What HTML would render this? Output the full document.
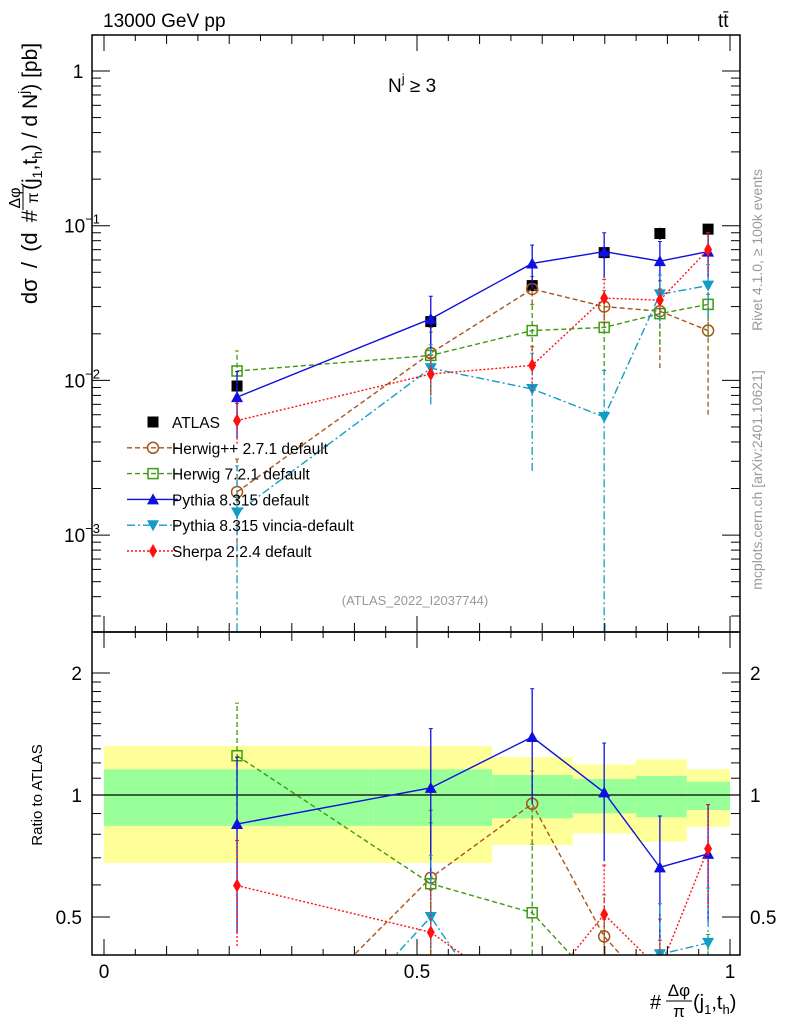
<!DOCTYPE html>
<html><head><meta charset="utf-8">
<style>
html,body{margin:0;padding:0;background:#fff;overflow:hidden;width:786px;height:1024px;}
svg{display:block;font-family:"Liberation Sans",sans-serif;}
</style></head>
<body>
<svg id="chart" width="786" height="1024" viewBox="0 0 786 1024" xmlns="http://www.w3.org/2000/svg">
<g id="bands"></g>
<g id="series"></g>
<g id="axes"></g>
<text x="103" y="27" font-size="19">13000 GeV pp</text>
<text x="718" y="27" font-size="19">tt̄</text>
<text x="388" y="92" font-size="19">N<tspan dy="-9" font-size="13">j</tspan><tspan dy="9"> ≥ 3</tspan></text>
<text x="415" y="605" font-size="13" fill="#999" text-anchor="middle">(ATLAS_2022_I2037744)</text>
<text transform="translate(762,250) rotate(-90)" font-size="14" fill="#999" text-anchor="middle">Rivet 4.1.0, ≥ 100k events</text>
<text transform="translate(762,480) rotate(-90)" font-size="14" fill="#999" text-anchor="middle">mcplots.cern.ch [arXiv:2401.10621]</text>
<g>
<text transform="translate(37,210) rotate(-90)" font-size="22" text-anchor="end" word-spacing="4">dσ / (d #</text>
<text transform="translate(20,198) rotate(-90)" font-size="16" text-anchor="middle">Δφ</text>
<line x1="23" x2="23" y1="186" y2="210" stroke="#000" stroke-width="1"/>
<text transform="translate(38,198) rotate(-90)" font-size="16" text-anchor="middle">π</text>
<text transform="translate(37,190) rotate(-90)" font-size="21">(j<tspan font-size="14" dy="5">1</tspan><tspan dy="-5">,t</tspan><tspan font-size="14" dy="5">h</tspan><tspan dy="-5">) / d N</tspan><tspan font-size="14" dy="-9">j</tspan><tspan dy="9">) [pb]</tspan></text>
</g>
<text transform="translate(42,795) rotate(-90)" font-size="15" text-anchor="middle">Ratio to ATLAS</text>
<g>
<text x="650" y="1009" font-size="20">#</text>
<text x="679" y="996" font-size="17" text-anchor="middle">Δφ</text>
<line x1="666" x2="692" y1="1001" y2="1001" stroke="#000" stroke-width="1"/>
<text x="679" y="1017" font-size="17" text-anchor="middle">π</text>
<text x="693" y="1009" font-size="20">(j<tspan font-size="13" dy="5">1</tspan><tspan dy="-5">,t</tspan><tspan font-size="13" dy="5">h</tspan><tspan dy="-5">)</tspan></text>
</g>
<g id="legend"></g>
</svg>
<script>
const xVals=[0.2125,0.522,0.684,0.799,0.888,0.965];
const atlas=[0.0092,0.024,0.041,0.067,0.089,0.095];
const atlasErr=[0.0008,0.002,0.003,0.006,0.008,0.008];
const herwigpp=[0.0019,0.015,0.039,0.030,0.028,0.021];
const herwigppErr=[0.0012,0.007,0.008,0.008,0.016,0.015];
const herwig7=[0.0115,0.0145,0.021,0.022,0.027,0.031];
const herwig7Err=[0.004,0.006,0.01,0.011,0.01,0.012];
const pythia=[0.0078,0.025,0.057,0.068,0.059,0.068];
const pythiaErr=[0.0036,0.01,0.018,0.022,0.02,0.022];
const vincia=[0.0014,0.012,0.0088,0.0058,0.036,0.041];
const vinciaErr=[0.0014,0.005,0.0062,0.0058,0.012,0.015];
const sherpa=[0.0055,0.011,0.0125,0.034,0.033,0.070];
const sherpaErr=[0.0016,0.003,0.004,0.011,0.006,0.02];
const binEdges=[0,0.43,0.62,0.749,0.85,0.931,1];
const yellowHi=[1.32,1.32,1.24,1.19,1.224,1.157];
const yellowLo=[0.68,0.68,0.753,0.804,0.767,0.835];
const greenHi=[1.157,1.157,1.12,1.095,1.114,1.078];
const greenLo=[0.839,0.839,0.876,0.901,0.881,0.918];
const legendLabels=["ATLAS","Herwig++ 2.7.1 default","Herwig 7.2.1 default","Pythia 8.315 default","Pythia 8.315 vincia-default","Sherpa 2.2.4 default"];

const NS="http://www.w3.org/2000/svg";
const L=92,R=740,T=35,MID=632,B=955;
const X=v=>104+v*626;
const YT=v=>71-154.7*Math.log10(v);
const YR=r=>795-122*Math.log2(r);
function mk(tag,attrs,parent){const e=document.createElementNS(NS,tag);for(const k in attrs)e.setAttribute(k,attrs[k]);parent.appendChild(e);return e;}
const bandsG=document.getElementById('bands'),serG=document.getElementById('series'),axG=document.getElementById('axes'),legG=document.getElementById('legend');

for(let i=0;i<binEdges.length-1;i++){
 let r=mk('rect',{x:X(binEdges[i]),y:YR(yellowHi[i]),width:X(binEdges[i+1])-X(binEdges[i]),height:YR(yellowLo[i])-YR(yellowHi[i]),fill:'#ffff99'},bandsG);
 
 
 let g=mk('rect',{x:X(binEdges[i]),y:YR(greenHi[i]),width:X(binEdges[i+1])-X(binEdges[i]),height:YR(greenLo[i])-YR(greenHi[i]),fill:'#99ff99'},bandsG);
 
 
}
let one=mk('line',{x1:L,x2:R,y1:YR(1),y2:YR(1),stroke:'#000','stroke-width':1.2},bandsG);



const defs=mk('defs',{},document.getElementById('chart'));
const c1=mk('clipPath',{id:'clipTop'},defs);mk('rect',{x:L,y:T,width:R-L,height:MID-T},c1);
const c2=mk('clipPath',{id:'clipBot'},defs);mk('rect',{x:L,y:MID,width:R-L,height:B-MID},c2);

function marker(g,type,x,y,color){
 let e;
 if(type==='sq') e=mk('rect',{x:x-5.5,y:y-5.5,width:11,height:11,fill:color},g);
 else if(type==='osq') e=mk('rect',{x:x-5,y:y-5,width:10,height:10,fill:'none',stroke:color,'stroke-width':1.5},g);
 else if(type==='oc') e=mk('circle',{cx:x,cy:y,r:5.5,fill:'none',stroke:color,'stroke-width':1.5},g);
 else if(type==='tu') e=mk('polygon',{points:`${x},${y-6} ${x-6},${y+5} ${x+6},${y+5}`,fill:color},g);
 else if(type==='td') e=mk('polygon',{points:`${x},${y+6} ${x-6},${y-5} ${x+6},${y-5}`,fill:color},g);
 else e=mk('polygon',{points:`${x},${y-7} ${x-4},${y} ${x},${y+7} ${x+4},${y}`,fill:color},g);
 return e;
}
const series=[
 {name:'herwigpp',vals:herwigpp,err:herwigppErr,color:'#a5561a',dash:'5,3',m:'oc'},
 {name:'herwig7',vals:herwig7,err:herwig7Err,color:'#3f9a12',dash:'5,3',m:'osq'},
 {name:'pythia',vals:pythia,err:pythiaErr,color:'#0f0fe0',dash:'',m:'tu'},
 {name:'vincia',vals:vincia,err:vinciaErr,color:'#129cc8',dash:'8,3,2,3',m:'td'},
 {name:'sherpa',vals:sherpa,err:sherpaErr,color:'#ff1010',dash:'2,2',m:'dia'}
];
function drawSeries(s,ratio){
 const g=mk('g',{'clip-path':ratio?'url(#clipBot)':'url(#clipTop)'},serG);
 
 
 const Y=ratio?YR:YT;
 const v=i=>ratio?s.vals[i]/atlas[i]:s.vals[i];
 const lo=i=>{let a=s.vals[i]-s.err[i];a=Math.max(a,1e-6);return ratio?a/atlas[i]:a;};
 const hi=i=>ratio?(s.vals[i]+s.err[i])/atlas[i]:s.vals[i]+s.err[i];
 let pts=xVals.map((x,i)=>X(x)+','+Y(v(i))).join(' ');
 const pl=mk('polyline',{points:pts,fill:'none',stroke:s.color,'stroke-width':1.4,'stroke-dasharray':s.dash},g);
 
 
 xVals.forEach((x,i)=>{
  const eb=mk('line',{x1:X(x),x2:X(x),y1:Y(lo(i)),y2:Y(hi(i)),stroke:s.color,'stroke-width':1.3,'stroke-dasharray':s.dash},g);
  
  
  mk('line',{x1:X(x)-2,x2:X(x)+2,y1:Y(hi(i)),y2:Y(hi(i)),stroke:s.color},g);
  const m=marker(g,s.m,X(x),Y(v(i)),s.color);
  
  
 });
}
const ag=mk('g',{'clip-path':'url(#clipTop)'},serG);


xVals.forEach((x,i)=>{
 mk('line',{x1:X(x),x2:X(x),y1:YT(atlas[i]-atlasErr[i]),y2:YT(atlas[i]+atlasErr[i]),stroke:'#000','stroke-width':1.3},ag);
 const m=marker(ag,'sq',X(x),YT(atlas[i]),'#000');
 
 
});
series.forEach(s=>{drawSeries(s,false);drawSeries(s,true);});

for(const [y1,y2] of [[T,MID],[MID,B]]){
 const f=mk('rect',{x:L,y:y1,width:R-L,height:y2-y1,fill:'none',stroke:'#000','stroke-width':1.5},axG);
 
 
}
for(let k=0;k<=20;k++){
 const v=k*0.05,x=X(v),major=k%10===0,len=major?16:(k%2===0?9:6);
 for(const [yb,dir] of [[MID,-1],[T,1],[B,-1]]){
  mk('line',{x1:x,x2:x,y1:yb,y2:yb+dir*len,stroke:'#000','stroke-width':1},axG);
 }
 mk('line',{x1:x,x2:x,y1:MID,y2:MID+len,stroke:'#000','stroke-width':1},axG);
}
[['0',0],['0.5',0.5],['1',1]].forEach(([t,v])=>{
 const e=mk('text',{x:X(v),y:978,'font-size':19,'text-anchor':'middle'},axG);e.textContent=t;
 
 
});
for(let d=-4;d<=0;d++){
 for(let m=1;m<=9;m++){
  const v=m*Math.pow(10,d),y=YT(v);
  if(y<T||y>MID)continue;
  const len=m===1?18:9;
  mk('line',{x1:L,x2:L+len,y1:y,y2:y,stroke:'#000'},axG);
  mk('line',{x1:R,x2:R-len,y1:y,y2:y,stroke:'#000'},axG);
 }
}
[['1',1],['10',0.1],['10',0.01],['10',0.001]].forEach(([t,v],i)=>{
 const e=mk('text',{x:i===0?78:64,y:YT(v)+7,'font-size':19,'text-anchor':i===0?'middle':'start'},axG);
 e.textContent=t;
 if(i>0){const ts=mk('tspan',{dy:-9,'font-size':13},e);ts.textContent='−'+i;}
 
 
});
[0.5,0.6,0.7,0.8,0.9,1,1.1,1.2,1.3,1.4,1.5,1.6,1.7,1.8,1.9,2].forEach(r=>{
 const y=YR(r),major=(r===0.5||r===1||r===2),len=major?18:9;
 mk('line',{x1:L,x2:L+len,y1:y,y2:y,stroke:'#000'},axG);
 mk('line',{x1:R,x2:R-len,y1:y,y2:y,stroke:'#000'},axG);
});
[['2',2],['1',1],['0.5',0.5]].forEach(([t,v])=>{
 for(const [x,a] of [[82,'end'],[750,'start']]){
  const e=mk('text',{x:x,y:YR(v)+7,'font-size':19,'text-anchor':a},axG);e.textContent=t;
  
  
 }
});
const legStyles=[{m:'sq',c:'#000',d:null},{m:'oc',c:'#a5561a',d:'5,3'},{m:'osq',c:'#3f9a12',d:'5,3'},{m:'tu',c:'#0f0fe0',d:''},{m:'td',c:'#129cc8',d:'8,3,2,3'},{m:'dia',c:'#ff1010',d:'2,2'}];
legendLabels.forEach((lab,i)=>{
 const y=422+i*25.8;
 const g=mk('g',{},legG);
 
 
 const st=legStyles[i];
 if(st.d!==null) mk('line',{x1:127,x2:178,y1:y,y2:y,stroke:st.c,'stroke-width':1.4,'stroke-dasharray':st.d},g);
 marker(g,st.m,153,y,st.c);
 const t=mk('text',{x:172,y:y+6,'font-size':15.5},g);t.textContent=lab;
});
</script>
</body></html>
